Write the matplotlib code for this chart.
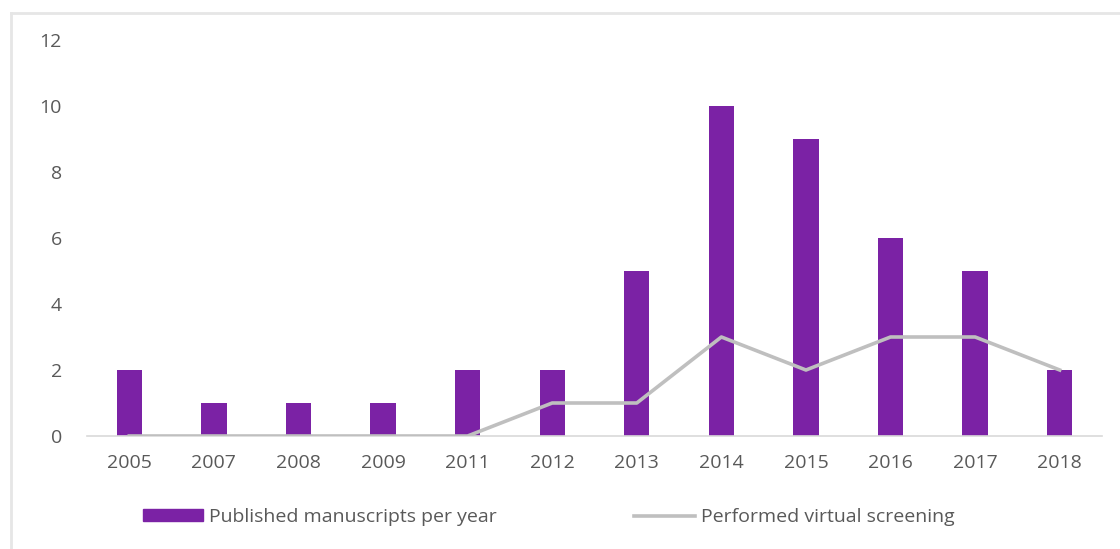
import matplotlib.pyplot as plt
from matplotlib.lines import Line2D
import numpy as np

years = ['2005', '2007', '2008', '2009', '2011', '2012', '2013',
         '2014', '2015', '2016', '2017', '2018']
manuscripts = [2, 1, 1, 1, 2, 2, 5, 10, 9, 6, 5, 2]
screening = [0, 0, 0, 0, 0, 1, 1, 3, 2, 3, 3, 2]

plt.rcParams['font.family'] = ['Open Sans', 'DejaVu Sans']
txt = '#595959'
purple = '#7B22A5'
grey = '#BFBFBF'

fig = plt.figure(figsize=(11.2, 5.49), dpi=100)
ax = fig.add_axes([87 / 1120, 1 - 436 / 549, 1015 / 1120, 396 / 549])

x = np.arange(len(years))
ax.bar(x, manuscripts, width=0.3, color=purple, zorder=2,
       label='Published manuscripts per year')
ax.plot(x, screening, color=grey, lw=2.6, zorder=3,
        label='Performed virtual screening')

ax.set_xlim(-0.5, len(years) - 0.5)
ax.set_ylim(0, 12)
ax.set_yticks(range(0, 13, 2))
ax.set_xticks(x)
ax.set_xticklabels(years)
ax.tick_params(length=0, colors=txt, labelsize=14)
ax.tick_params(axis='y', pad=18)
ax.tick_params(axis='x', pad=13)
for s in ['top', 'right', 'left']:
    ax.spines[s].set_visible(False)
ax.spines['bottom'].set_color('#D9D9D9')
ax.spines['bottom'].set_linewidth(1.2)

handles = [plt.Rectangle((0, 0), 1, 1, color=purple),
           Line2D([0], [0], color=grey, lw=2.6)]
labels = ['Published manuscripts per year', 'Performed virtual screening']
fig.legend(handles, labels, loc='center left',
           bbox_to_anchor=(125 / 1120, 1 - 517 / 549),
           ncol=2, frameon=False, fontsize=14, labelcolor=txt,
           handlelength=3.1, handleheight=0.55, handletextpad=0.3,
           columnspacing=7.1)

# chart area border (top and left visible)
fig.add_artist(Line2D([11 / 1120, 1], [1 - 13 / 549] * 2, color='#E6E6E6', lw=2))
fig.add_artist(Line2D([11 / 1120] * 2, [0, 1 - 13 / 549], color='#E6E6E6', lw=2))

fig.savefig('out.png', dpi=100)
